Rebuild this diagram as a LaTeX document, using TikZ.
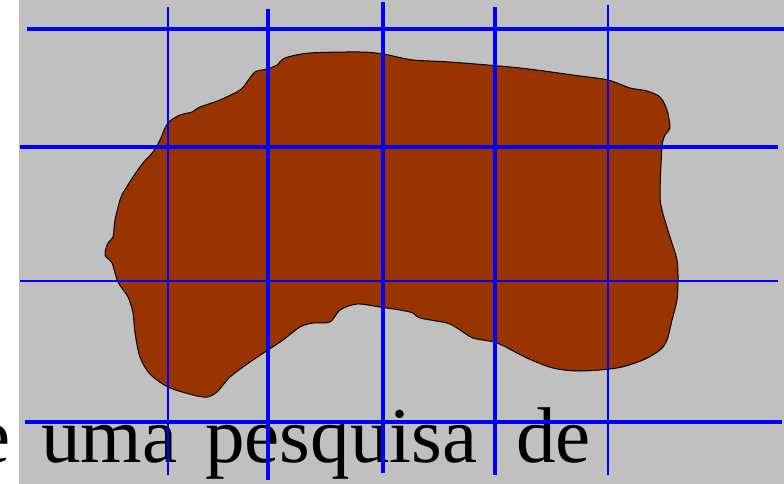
\documentclass[tikz,border=0pt]{standalone}
\usepackage{fontspec}
\setmainfont{Liberation Serif}
\definecolor{bggray}{HTML}{C0C0C0}
\definecolor{soil}{HTML}{993300}
\definecolor{gridblue}{HTML}{0000FF}
\tikzset{
  thickgrid/.style={draw=gridblue, line width=4pt},
  thingrid/.style={draw=gridblue, line width=2.6pt},
  word/.style={anchor=base west, inner sep=0pt, font=\fontsize{79}{82}\selectfont},
}
\begin{document}
\begin{tikzpicture}[x=1pt,y=-1pt]
\useasboundingbox (0,0) rectangle (784,484);
\clip (0,0) rectangle (784,484);
\fill[white] (0,0) rectangle (784,484);
\fill[bggray] (19,0) rectangle (784,484);
% blob
\filldraw[fill=soil, draw=black, line width=1pt, line join=round]
  plot[smooth, tension=0.5] coordinates {
  (123,193) (133,177) (143,163) (153,152) (160,140) (165,128) (170,121) (180,115)
  (192,112) (200,107) (220,100) (240,90) (247,82) (255,72) (267,69) (277,65)
  (285,58) (310,53) (360,52) (383,54) (413,60) (450,62) (520,68) (580,76)
  (608,80) (630,88) (647,91) (660,97) (667,110) (670,128) (665,135) (662,147)
  (660,193) (662,210) (670,237) (677,260) (678,280) (677,300) (672,320) (667,340)
  (660,350) (643,360) (617,368) (580,371) (553,368) (527,358) (497,343) (473,338)
  (457,328) (447,323) (420,318) (413,313) (400,310) (380,307) (357,304) (340,310)
  (330,322) (313,323) (300,327) (283,340) (268,350) (250,362) (230,377) (217,392)
  (207,397) (193,395) (168,387) (150,374) (140,357) (135,333) (133,313) (128,297)
  (118,282) (112,263) (105,255) (108,243) (113,237) (115,220) (120,200) (123,193)};
% text
\node[word] (w1) at (-25,462) {e};
\node[word] (w2) at (41,462) {uma};
\node[word] (w3) at (205,462) {pesquisa};
\node[word] (w4) at (516,462) {de};
% grid lines
\draw[thickgrid] (27,29) -- (784,29);
\draw[thickgrid] (20,146.5) -- (778,146.5);
\draw[thingrid] (20,281) -- (778,281);
\draw[thickgrid] (25,421.5) -- (782,421.5);
\draw[thingrid] (168,7) -- (168,475);
\draw[thickgrid] (268,9) -- (268,480);
\draw[thickgrid] (383,2) -- (383,473);
\draw[thickgrid] (495,7) -- (495,475);
\draw[thingrid] (608,5) -- (608,475);
\end{tikzpicture}
\end{document}
